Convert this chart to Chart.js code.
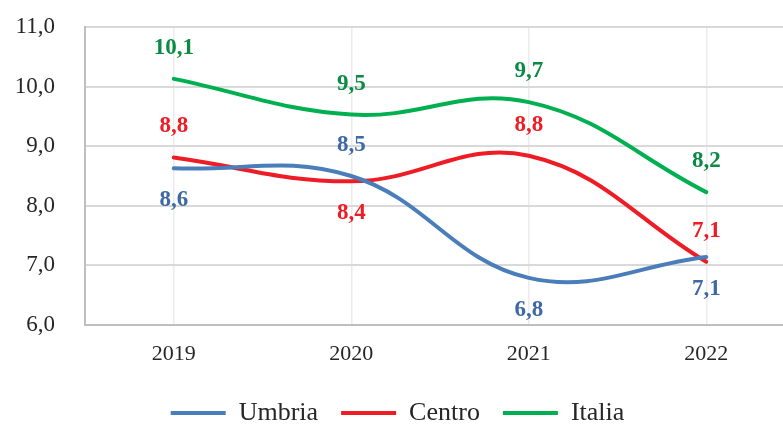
<!DOCTYPE html>
<html lang="it">
<head>
  <meta charset="UTF-8">
  <title>Umbria Centro Italia</title>
  <script src="https://cdn.jsdelivr.net/npm/chart.js"></script>
  <style>
    html, body { margin:0; padding:0; overflow:hidden; background:#fff; }
    .wrap { position:relative; width:800px; height:427px; }
  </style>
</head>
<body>
  <div class="wrap"><canvas id="grafico"></canvas></div>
  <script>
    // dati
    const anni = ['2019', '2020', '2021', '2022'];
    const umbria = [8.63, 8.50, 6.79, 7.14];
    const centro = [8.81, 8.41, 8.84, 7.06];
    const italia = [10.13, 9.53, 9.74, 8.23];
    const yTicks = [6, 7, 8, 9, 10, 11];

    // posizione delle etichette (sopra / sotto il punto)
    const posUmbria = ['below', 'above', 'below', 'below'];
    const posCentro = ['above', 'below', 'above', 'above'];
    const posItalia = ['above', 'above', 'above', 'above'];

    const fmt = v => v.toFixed(1).replace('.', ',');
    const FONT = '"Liberation Serif", "DejaVu Serif", serif';

    const etichette = {
      id: 'etichette',
      afterLayout(chart) {
        // abbassa la legenda come nell'originale
        chart.legend.top += 9;
        chart.legend.bottom += 9;
      },
      afterDatasetsDraw(chart) {
        const ctx = chart.ctx;
        ctx.save();
        ctx.font = 'bold 23px ' + FONT;
        ctx.textAlign = 'center';
        ctx.textBaseline = 'middle';
        chart.data.datasets.forEach((ds, i) => {
          const meta = chart.getDatasetMeta(i);
          meta.data.forEach((pt, j) => {
            const off = ds.labelPos[j] === 'above' ? -31 : 32;
            ctx.fillStyle = ds.labelColor;
            ctx.fillText(fmt(ds.data[j]), pt.x, pt.y + off);
          });
        });
        ctx.restore();
      }
    };

    const serie = (label, data, color, labelColor, pos) => ({
      label, data, labelPos: pos, labelColor,
      borderColor: color, backgroundColor: color,
      borderWidth: 4, borderCapStyle: 'round',
      pointRadius: 0, pointHoverRadius: 0, tension: 0.4, fill: false
    });

    new Chart(document.getElementById('grafico'), {
      type: 'line',
      data: {
        labels: anni,
        datasets: [
          serie('Umbria', umbria, '#4a7ebb', '#3f69a6', posUmbria),
          serie('Centro', centro, '#ee1c25', '#ee1c25', posCentro),
          serie('Italia', italia, '#00b050', '#0b8a44', posItalia)
        ]
      },
      options: {
        responsive: true,
        maintainAspectRatio: false,
        animation: false,
        events: [],
        layout: { padding: { top: 27, right: 5, left: 0, bottom: 0 } },
        plugins: {
          tooltip: { enabled: false },
          legend: {
            position: 'bottom',
            labels: {
              usePointStyle: true, pointStyle: 'line', pointStyleWidth: 55,
              color: '#262626', padding: 23,
              font: { family: FONT, size: 26 }
            }
          }
        },
        scales: {
          x: {
            offset: true,
            grid: { offset: false, color: '#ececec', lineWidth: 1.5, drawTicks: false },
            border: { color: '#bfbfbf', width: 2 },
            ticks: { color: '#262626', padding: 16, font: { family: FONT, size: 22 } },
            afterFit(s) { s.height = 43; }
          },
          y: {
            min: 6, max: 11,
            afterBuildTicks(s) { s.ticks = yTicks.map(v => ({ value: v })); },
            grid: { color: '#d9d9d9', lineWidth: 2, drawTicks: false },
            border: { color: '#bfbfbf', width: 2 },
            ticks: { color: '#262626', padding: 30, font: { family: FONT, size: 23 }, callback: v => fmt(v) },
            afterFit(s) { s.width = 85; s.paddingTop = 0; s.paddingBottom = 0; }
          }
        }
      },
      plugins: [etichette]
    });
  </script>
</body>
</html>
